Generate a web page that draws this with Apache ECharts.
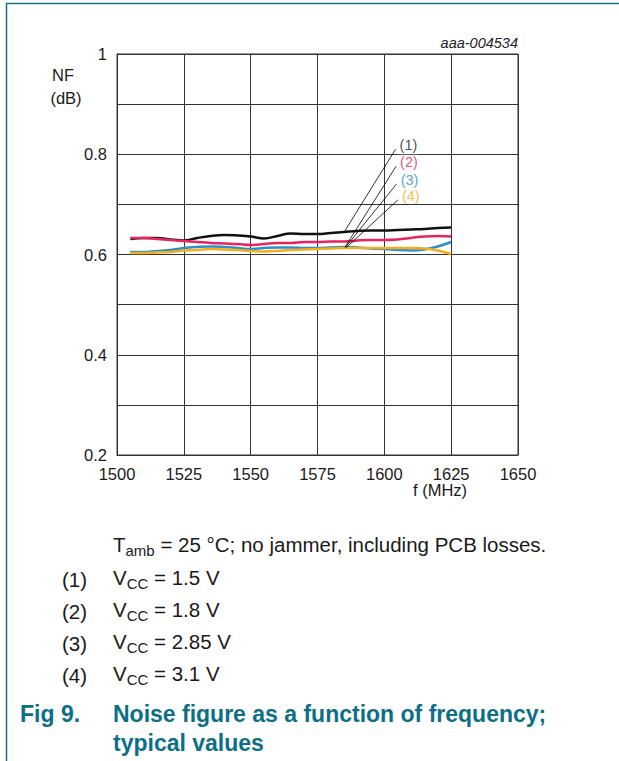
<!DOCTYPE html>
<html>
<head>
<meta charset="utf-8">
<script src="https://cdn.jsdelivr.net/npm/echarts@6/dist/echarts.min.js"></script>
<style>
html,body{margin:0;padding:0;background:#fff;}
#chart{width:619px;height:761px;}
</style>
</head>
<body>
<div id="chart"></div>
<script>
// ---- data ----
var freqs = [1505,1510,1515,1520,1525,1530,1535,1540,1545,1550,1555,1560,1565,1570,1575,1580,1585,1590,1595,1600,1605,1610,1615,1620,1625];
var nf_vcc1_5 = [0.631,0.633,0.633,0.630,0.628,0.633,0.637,0.639,0.638,0.636,0.632,0.637,0.642,0.641,0.641,0.643,0.645,0.647,0.648,0.648,0.649,0.650,0.651,0.653,0.654];
var nf_vcc1_8 = [0.633,0.633,0.631,0.629,0.627,0.625,0.623,0.622,0.621,0.619,0.621,0.623,0.623,0.625,0.625,0.626,0.626,0.628,0.629,0.629,0.630,0.633,0.636,0.637,0.636];
var nf_vcc2_85 = [0.605,0.605,0.607,0.609,0.613,0.615,0.616,0.615,0.613,0.611,0.613,0.614,0.614,0.613,0.613,0.614,0.615,0.614,0.612,0.611,0.609,0.608,0.610,0.616,0.625];
var nf_vcc3_1 = [0.603,0.603,0.604,0.605,0.608,0.609,0.611,0.610,0.609,0.607,0.606,0.607,0.609,0.610,0.611,0.612,0.613,0.613,0.613,0.613,0.613,0.613,0.612,0.608,0.601];
var seriesLabels = ['(1)','(2)','(3)','(4)'];
var seriesColors = ['#111111','#e8245e','#2a8fd0','#f5ad1c'];
var labelColors = ['#222222','#e8245e','#2a8fd0','#f5ad1c'];
// leader lines: [label anchor point, end point] in data units
var leaderStart = [[1604.2,0.810],[1604.4,0.776],[1604.6,0.741],[1605.1,0.709]];
var leaderEnd = [[1585.0,0.645],[1585.3,0.615],[1585.4,0.614],[1585.8,0.614]];
var xTicks = {min:1500, max:1650, interval:25};
var yTicks = {min:0.2, max:1.0, interval:0.1};

function pairs(xs, ys){ return xs.map(function(x,i){ return [x, ys[i]]; }); }

var font = 'Liberation Sans, Arial, sans-serif';
var dataSeries = [nf_vcc1_5, nf_vcc1_8, nf_vcc2_85, nf_vcc3_1].map(function(vals, i){
  return {
    type:'line', data: pairs(freqs, vals), showSymbol:false, smooth:0.4,
    lineStyle:{color:seriesColors[i], width:2.5}, itemStyle:{color:seriesColors[i]},
    silent:true, z:3
  };
});
var leaderSeries = leaderStart.map(function(s, i){
  return {
    type:'line', data:[s, leaderEnd[i]],
    showSymbol:false, symbol:'none', lineStyle:{color:'#000', width:0.8}, silent:true, z:4
  };
});
var labelSeries = {
  type:'scatter', symbolSize:0, silent:true, z:5,
  data: leaderStart.map(function(s, i){
    return {value:s, label:{show:true, formatter:seriesLabels[i], position:'right', distance:3, offset:[0,-4],
      color:labelColors[i], fontSize:14.5, fontFamily:font, backgroundColor:'#fff', padding:[0,1,0,1]}};
  })
};

var tealBorder = '#15708a';
var teal = '#0b6f88';
var bodySize = 20.5;
var capSize = 23;
function txt(x, y, s, opts){
  var st = Object.assign({text:s, x:0, y:0, fontFamily:font, fontSize:bodySize, fill:'#1a1a1a', verticalAlign:'middle'}, opts||{});
  return {type:'text', x:x, y:y, style:st, silent:true};
}
function richTxt(x, y, pre, sub, post, size){
  var subSize = Math.round(size*0.75);
  return {type:'text', x:x, y:y, silent:true, style:{
    text:'{a|' + pre + '}{b|' + sub + '}{a|' + post + '}',
    rich:{
      a:{fontSize:size, fontFamily:font, fill:'#1a1a1a', lineHeight:size+3, verticalAlign:'top'},
      b:{fontSize:subSize, fontFamily:font, fill:'#1a1a1a', lineHeight:subSize+1, padding:[9,0,0,0], verticalAlign:'top'}
    },
    verticalAlign:'middle', fontFamily:font, fontSize:size, fill:'#1a1a1a'}};
}

var vccLines = ['1.5 V','1.8 V','2.85 V','3.1 V'];
var graphics = [
  {type:'line', shape:{x1:6, y1:3.5, x2:619, y2:3.5}, style:{stroke:tealBorder, lineWidth:1.5}, silent:true},
  {type:'line', shape:{x1:6.5, y1:3, x2:6.5, y2:761}, style:{stroke:tealBorder, lineWidth:1.5}, silent:true},
  txt(518, 43, 'aaa-004534', {align:'right', fontStyle:'italic', fontSize:14.5, fill:'#222'}),
  txt(63, 75, 'NF', {align:'center', fontSize:16.5}),
  txt(66, 98, '(dB)', {align:'center', fontSize:16.5}),
  txt(440, 490, 'f (MHz)', {align:'center', fontSize:16.5}),
  richTxt(113, 546, 'T', 'amb', ' = 25 \u00b0C; no jammer, including PCB losses.', bodySize)
];
vccLines.forEach(function(v, i){
  var y = 579 + i*32;
  graphics.push(txt(62, y, seriesLabels[i], {fontSize:bodySize}));
  graphics.push(richTxt(113, y, 'V', 'CC', ' = ' + v, bodySize));
});
graphics.push(txt(20, 714, 'Fig 9.', {fontSize:capSize, fontWeight:'bold', fill:teal}));
graphics.push(txt(113, 714, 'Noise figure as a function of frequency;', {fontSize:capSize, fontWeight:'bold', fill:teal}));
graphics.push(txt(113, 743, 'typical values', {fontSize:capSize, fontWeight:'bold', fill:teal}));

var chart = echarts.init(document.getElementById('chart'), null, {renderer:'svg'});
chart.setOption({
  animation:false,
  backgroundColor:'#fff',
  grid:{left:117, top:54, width:401, height:401, show:true, borderColor:'#333', borderWidth:1, containLabel:false},
  xAxis:{type:'value', min:xTicks.min, max:xTicks.max, interval:xTicks.interval,
    axisLine:{show:true, lineStyle:{color:'#333', width:1}}, axisTick:{show:false},
    splitLine:{show:true, lineStyle:{color:'#333', width:1}},
    axisLabel:{color:'#1a1a1a', fontSize:16.5, fontFamily:font, margin:10, formatter:function(v){ return String(v); }}},
  yAxis:{type:'value', min:yTicks.min, max:yTicks.max, interval:yTicks.interval,
    axisLine:{show:true, lineStyle:{color:'#333', width:1}}, axisTick:{show:false},
    splitLine:{show:true, lineStyle:{color:'#333', width:1}},
    axisLabel:{color:'#1a1a1a', fontSize:16.5, fontFamily:font, margin:10,
      formatter:function(v){ var k=Math.round(v*10); if(k%2!==0) return ''; return k===10?'1':(k/10).toFixed(1); }}},
  series: dataSeries.concat(leaderSeries, [labelSeries]),
  graphic: graphics
});
</script>
</body>
</html>
